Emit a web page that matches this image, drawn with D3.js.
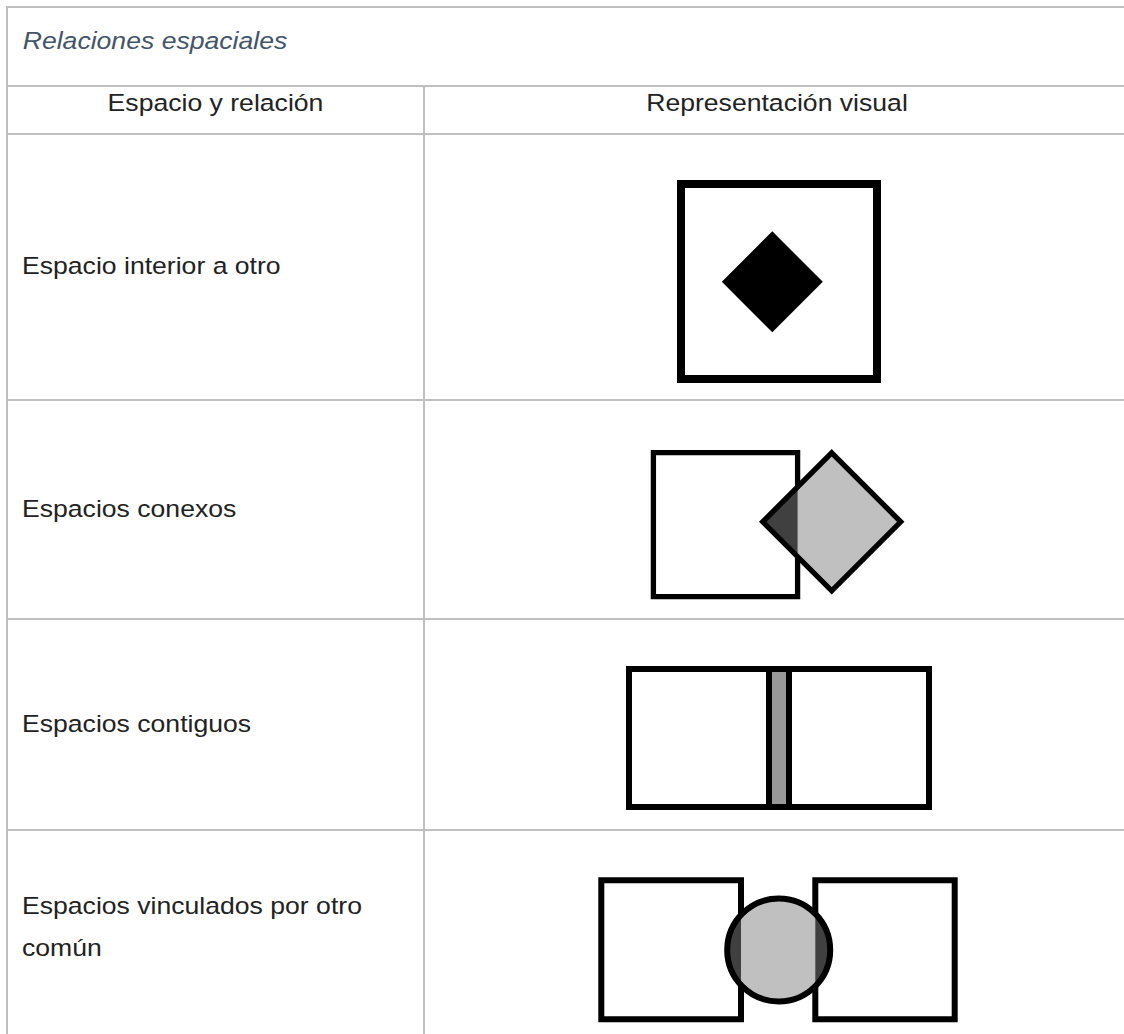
<!DOCTYPE html>
<html><head><meta charset="utf-8">
<script src="https://cdn.jsdelivr.net/npm/d3@7"></script>
<style>html,body{margin:0;padding:0;background:#fff;}svg{display:block;}</style>
</head><body>
<svg id="c" width="1124" height="1034"></svg>
<script>
// ---- data ----
const title = "Relaciones espaciales";
const headers = ["Espacio y relación", "Representación visual"];
const rowLabels = [
  ["Espacio interior a otro"],
  ["Espacios conexos"],
  ["Espacios contiguos"],
  ["Espacios vinculados por otro", "común"]
];
const rowKinds = ["interior", "conexos", "contiguos", "vinculados"];

(function () {
// ---- layout ----
const W = 1124, H = 1034;
const svg = d3.select("#c");
const lineColor = "#bfbfbf";
const leftX = 7, topY = 7, colX = 424;
const rowEdges = [86, 134, 400, 619, 830, 1026];
const fontSize = 24.7, sx = 1.077;

// unit scale (diagram units -> px)
const x = d3.scaleLinear().domain([0, 1]).range([0, 1]);
const y = d3.scaleLinear().domain([0, 1]).range([0, 1]);

// table lines
const g = svg.append("g");
g.append("line").attr("x1", leftX - 1).attr("x2", W).attr("y1", topY).attr("y2", topY)
  .attr("stroke", lineColor).attr("stroke-width", 2);
g.append("line").attr("x1", leftX).attr("x2", leftX).attr("y1", topY - 1).attr("y2", H)
  .attr("stroke", lineColor).attr("stroke-width", 2);
g.selectAll("line.row").data(rowEdges.slice(0, 5)).enter().append("line").attr("class", "row")
  .attr("x1", leftX).attr("x2", W).attr("y1", d => d).attr("y2", d => d)
  .attr("stroke", lineColor).attr("stroke-width", 2);
g.append("line").attr("x1", colX).attr("x2", colX).attr("y1", rowEdges[0]).attr("y2", H)
  .attr("stroke", lineColor).attr("stroke-width", 2);

function txt(str, px, py, opts = {}) {
  svg.append("text")
    .attr("transform", `translate(${px},${py}) scale(${sx},1)`)
    .attr("text-anchor", opts.anchor || "start")
    .attr("font-family", "'Liberation Sans', Arial, sans-serif")
    .attr("font-size", fontSize)
    .attr("font-style", opts.italic ? "italic" : "normal")
    .attr("fill", opts.color || "#222")
    .text(str);
}

// title + headers
txt(title, 22.7, 48.7, { italic: true, color: "#44546a" });
const headerCenters = [(leftX + colX) / 2, 777];
headers.forEach((h, i) => txt(h, headerCenters[i], 111, { anchor: "middle" }));

// row labels
rowLabels.forEach((lines, i) => {
  const c = (rowEdges[i + 1] + rowEdges[i + 2]) / 2;
  const lh = 41.5;
  const first = c + 7 - (lines.length - 1) * lh / 2;
  lines.forEach((l, j) => txt(l, 22, first + j * lh));
});

// ---- diagrams ----
const dg = svg.append("g");
const rectPath = (x0, y0, x1, y1) => `M${x(x0)},${y(y0)}H${x(x1)}V${y(y1)}H${x(x0)}Z`;
const diamondPath = (cx, cy, r) => `M${x(cx)},${y(cy - r)}L${x(cx + r)},${y(cy)}L${x(cx)},${y(cy + r)}L${x(cx - r)},${y(cy)}Z`;
const defs = svg.append("defs");

rowKinds.forEach((k, i) => {
  if (k === "interior") {
    dg.append("path").attr("d", rectPath(681, 184, 877, 379)).attr("fill", "#fff")
      .attr("stroke", "#000").attr("stroke-width", 8);
    dg.append("path").attr("d", diamondPath(772.3, 281.8, 50.5)).attr("fill", "#000");
  } else if (k === "conexos") {
    const sq = [653.4, 452.7, 797.6, 596.6];
    const dm = [831.7, 521.8, 69];
    dg.append("path").attr("d", rectPath(...sq)).attr("fill", "#fff")
      .attr("stroke", "#000").attr("stroke-width", 5.3);
    dg.append("path").attr("d", diamondPath(...dm)).attr("fill", "#c0c0c0");
    defs.append("clipPath").attr("id", "clipSq2").append("path").attr("d", rectPath(...sq));
    dg.append("path").attr("d", diamondPath(...dm)).attr("fill", "#404040")
      .attr("clip-path", "url(#clipSq2)");
    dg.append("path").attr("d", diamondPath(...dm)).attr("fill", "none")
      .attr("stroke", "#000").attr("stroke-width", 5.3);
  } else if (k === "contiguos") {
    dg.append("path").attr("d", rectPath(629, 669, 769, 807)).attr("fill", "#fff")
      .attr("stroke", "#000").attr("stroke-width", 6);
    dg.append("path").attr("d", rectPath(789, 669, 929, 807)).attr("fill", "#fff")
      .attr("stroke", "#000").attr("stroke-width", 6);
    dg.append("path").attr("d", rectPath(769, 669, 789, 807)).attr("fill", "#999999")
      .attr("stroke", "#000").attr("stroke-width", 6);
  } else if (k === "vinculados") {
    const l = [601.3, 880.3, 741, 1019.3], r = [815.3, 880.3, 954.7, 1019.3];
    const c = [778.7, 950, 51.5];
    dg.append("path").attr("d", rectPath(...l)).attr("fill", "#fff")
      .attr("stroke", "#000").attr("stroke-width", 6);
    dg.append("path").attr("d", rectPath(...r)).attr("fill", "#fff")
      .attr("stroke", "#000").attr("stroke-width", 6);
    dg.append("circle").attr("cx", x(c[0])).attr("cy", y(c[1])).attr("r", c[2]).attr("fill", "#c0c0c0");
    const cp = defs.append("clipPath").attr("id", "clipSq4");
    cp.append("path").attr("d", rectPath(...l));
    cp.append("path").attr("d", rectPath(...r));
    dg.append("circle").attr("cx", x(c[0])).attr("cy", y(c[1])).attr("r", c[2]).attr("fill", "#404040")
      .attr("clip-path", "url(#clipSq4)");
    dg.append("circle").attr("cx", x(c[0])).attr("cy", y(c[1])).attr("r", c[2]).attr("fill", "none")
      .attr("stroke", "#000").attr("stroke-width", 6);
  }
});
})();
</script>
</body></html>
